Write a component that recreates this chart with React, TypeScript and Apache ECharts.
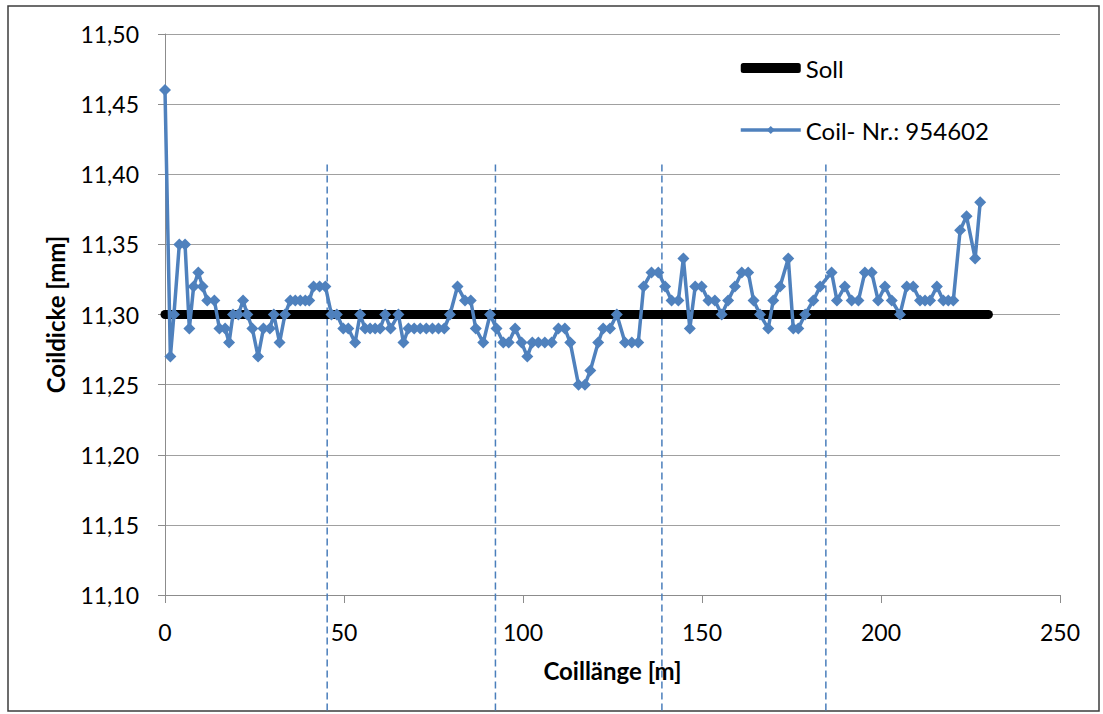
import React, { useEffect, useRef } from "react";
import * as echarts from "echarts";

// Coil length [m]
const coilLength = [
  0, 1.5, 2.5, 4.0, 5.6, 6.8, 8.0, 9.3, 10.5, 11.8, 13.8, 15.2, 16.8, 17.9, 19.0, 20.5, 21.8, 23.0,
  24.4, 26.0, 27.5, 29.3, 30.4, 32.0, 33.5, 35.0, 36.4, 37.8, 39.2, 40.3, 41.5, 43.2, 44.8, 46.5,
  48.0, 49.8, 51.2, 53.1, 54.5, 55.9, 57.3, 58.7, 60.1, 61.5, 63.0, 65.2, 66.6, 68.0, 69.6, 71.3,
  73.0, 74.7, 76.4, 78.0, 79.6, 81.7, 83.8, 85.4, 86.8, 88.9, 90.8, 92.6, 94.5, 96.0, 97.8, 99.6,
  101.2, 102.6, 104.3, 106.1, 108.0, 109.9, 111.7, 113.2, 115.5, 117.3, 118.8, 121.0, 122.4, 124.3,
  126.2, 128.5, 130.4, 132.2, 133.7, 135.9, 137.8, 139.7, 141.5, 143.4, 144.8, 146.6, 148.1, 149.9,
  151.8, 153.6, 155.5, 157.3, 159.2, 161.1, 162.9, 164.4, 166.2, 168.5, 169.9, 171.8, 174.1, 175.5,
  176.9, 178.8, 181.1, 183.0, 186.2, 187.7, 189.9, 191.8, 193.7, 195.5, 197.4, 199.2, 201.1, 203.0,
  205.3, 207.2, 209.0, 210.9, 212.3, 213.7, 215.6, 217.4, 218.8, 220.2, 222.1, 223.9, 226.3, 227.7,
];

// Coil thickness [mm]
const coilThickness = [
  11.46, 11.27, 11.30, 11.35, 11.35, 11.29, 11.32, 11.33, 11.32, 11.31, 11.31, 11.29, 11.29, 11.28,
  11.30, 11.30, 11.31, 11.30, 11.29, 11.27, 11.29, 11.29, 11.30, 11.28, 11.30, 11.31, 11.31, 11.31,
  11.31, 11.31, 11.32, 11.32, 11.32, 11.30, 11.30, 11.29, 11.29, 11.28, 11.30, 11.29, 11.29, 11.29,
  11.29, 11.30, 11.29, 11.30, 11.28, 11.29, 11.29, 11.29, 11.29, 11.29, 11.29, 11.29, 11.30, 11.32,
  11.31, 11.31, 11.29, 11.28, 11.30, 11.29, 11.28, 11.28, 11.29, 11.28, 11.27, 11.28, 11.28, 11.28,
  11.28, 11.29, 11.29, 11.28, 11.25, 11.25, 11.26, 11.28, 11.29, 11.29, 11.30, 11.28, 11.28, 11.28,
  11.32, 11.33, 11.33, 11.32, 11.31, 11.31, 11.34, 11.29, 11.32, 11.32, 11.31, 11.31, 11.30, 11.31,
  11.32, 11.33, 11.33, 11.31, 11.30, 11.29, 11.31, 11.32, 11.34, 11.29, 11.29, 11.30, 11.31, 11.32,
  11.33, 11.31, 11.32, 11.31, 11.31, 11.33, 11.33, 11.31, 11.32, 11.31, 11.30, 11.32, 11.32, 11.31,
  11.31, 11.31, 11.32, 11.31, 11.31, 11.31, 11.36, 11.37, 11.34, 11.38,
];

// Target (Soll) line
const sollLength = [0, 230];
const sollThickness = [11.3, 11.3];

// Section divider positions [m]
const sectionMarks = [45.3, 92.3, 138.8, 184.6];

const SERIES_COIL = "Coil- Nr.: 954602";
const SERIES_SOLL = "Soll";

export default function App() {
  const ref = useRef<HTMLDivElement>(null);

  useEffect(() => {
    if (!ref.current) return;
    const chart = echarts.init(ref.current, null, { renderer: "svg" });
    const font = "Lato";
    const blue = "#4F81BD";

    const dividerSeries = sectionMarks.map((m) => ({
      type: "line",
      data: [
        [m, 11.407],
        [m, 11.016],
      ],
      symbol: "none",
      clip: false,
      silent: true,
      z: 1,
      lineStyle: { color: "#4A7EBB", width: 1.5, type: [7, 4] },
    }));

    const option: any = {
      animation: false,
      backgroundColor: "#ffffff",
      textStyle: { fontFamily: font },
      graphic: [
        {
          type: "rect",
          silent: true,
          shape: { x: 8, y: 6, width: 1091, height: 705 },
          style: { fill: "none", stroke: "#3c3c3c", lineWidth: 1.5 },
        },
      ],
      grid: { left: 165, top: 34, width: 895, height: 561, containLabel: false },
      legend: {
        orient: "vertical",
        left: 734,
        top: 51,
        itemWidth: 60,
        itemHeight: 10,
        itemGap: 38,
        textStyle: { fontFamily: font, fontSize: 24, color: "#000" },
        data: [
          { name: SERIES_SOLL, icon: "roundRect", itemStyle: { color: "#000" } },
          { name: SERIES_COIL, lineStyle: { width: 3.5, color: blue } },
        ],
      },
      xAxis: {
        type: "value",
        min: 0,
        max: 250,
        interval: 50,
        name: "Coillänge [m]",
        nameLocation: "middle",
        nameGap: 63,
        nameTextStyle: { fontFamily: font, fontSize: 24, fontWeight: "bold", color: "#000" },
        axisLine: { show: true, lineStyle: { color: "#8c8c8c", width: 1 } },
        axisTick: { show: true, inside: false, length: 8, lineStyle: { color: "#8c8c8c" } },
        axisLabel: { margin: 25, fontSize: 23, color: "#000", fontFamily: font },
        splitLine: { show: false },
      },
      yAxis: {
        type: "value",
        min: 11.1,
        max: 11.5,
        interval: 0.05,
        name: "Coildicke [mm]",
        nameLocation: "middle",
        nameGap: 98,
        nameTextStyle: { fontFamily: font, fontSize: 24, fontWeight: "bold", color: "#000" },
        axisLine: { show: true, lineStyle: { color: "#8c8c8c", width: 1 } },
        axisTick: { show: true, inside: false, length: 7, lineStyle: { color: "#8c8c8c" } },
        axisLabel: {
          margin: 26,
          fontSize: 23,
          color: "#000",
          fontFamily: font,
          formatter: (v: number) => v.toFixed(2).replace(".", ","),
        },
        splitLine: { show: true, lineStyle: { color: "#a0a0a0", width: 1 } },
      },
      series: [
        {
          name: SERIES_SOLL,
          type: "line",
          data: sollLength.map((x, i) => [x, sollThickness[i]]),
          symbol: "none",
          z: 2,
          itemStyle: { color: "#000" },
          lineStyle: { color: "#000", width: 9, cap: "round" },
        },
        {
          name: SERIES_COIL,
          type: "line",
          data: coilLength.map((x, i) => [x, coilThickness[i]]),
          symbol: "diamond",
          symbolSize: 12,
          showSymbol: true,
          z: 3,
          itemStyle: { color: blue },
          lineStyle: { color: blue, width: 3.5 },
        },
        ...dividerSeries,
      ],
    };

    chart.setOption(option);
    return () => chart.dispose();
  }, []);

  return (
    <div
      ref={ref}
      style={{ position: "absolute", left: 0, top: 0, width: 1103, height: 714, background: "#fff" }}
    />
  );
}
